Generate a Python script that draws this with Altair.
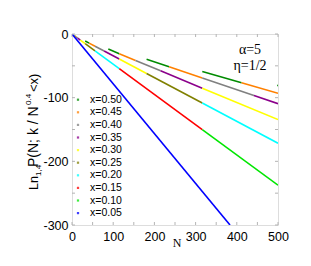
import altair as alt
import pandas as pd

labels = ["x=0.50", "x=0.45", "x=0.40", "x=0.35", "x=0.30",
          "x=0.25", "x=0.20", "x=0.15", "x=0.10", "x=0.05"]
colors = ["#008b00", "#ff8000", "#808080", "#8b008b", "#ffff00",
          "#808000", "#00ffff", "#ff0000", "#00e600", "#0000ff"]

# visible segments per series: (N start, value start, N end, value end)
seg_050 = [(5.7, -2.7, 7.4, -3.5), (32.0, -11.0, 41.6, -14.3), (88.2, -23.7, 114.7, -30.9),
           (181.0, -39.6, 235.6, -51.6), (316.2, -58.8, 411.5, -76.5), (498.0, -80.7, 500.0, -81.0)]
seg_045 = [(7.4, -3.5, 9.9, -4.7), (41.6, -14.3, 55.9, -19.2), (114.7, -30.9, 154.2, -41.5),
           (235.6, -51.6, 316.2, -69.2), (411.5, -76.5, 500.0, -93.0)]
seg_040 = [(9.9, -4.7, 13.8, -6.6), (55.9, -19.2, 78.0, -26.8), (154.2, -41.5, 215.0, -57.8),
           (316.2, -69.2, 441.6, -96.7)]
seg_035 = [(13.8, -6.6, 20.3, -9.6), (78.0, -26.8, 114.7, -39.3), (215.0, -57.8, 316.2, -85.1),
           (441.6, -96.7, 500.0, -109.5)]
seg_030 = [(20.3, -9.6, 32.0, -15.2), (114.7, -39.3, 181.0, -62.1), (316.2, -85.1, 500.0, -134.5)]
seg_025 = [(32.0, -15.2, 55.9, -26.6), (181.0, -62.1, 316.2, -108.5)]
seg_020 = [(55.9, -26.6, 114.7, -54.5), (316.2, -108.5, 500.0, -171.5)]
seg_015 = [(114.7, -54.5, 316.2, -150.2)]
seg_010 = [(316.2, -150.2, 500.0, -237.5)]
seg_005 = [(0.0, 0.0, 383.5, -300.0)]

all_segs = [seg_050, seg_045, seg_040, seg_035, seg_030,
            seg_025, seg_020, seg_015, seg_010, seg_005]

x_ticks = [0, 100, 200, 300, 400, 500]
y_ticks = [0, -100, -200, -300]
x_minor = [0, 50, 100, 150, 200, 250, 300, 350, 400, 450, 500]
y_minor = [0, -50, -100, -150, -200, -250, -300]

rows = []
for lab, segs in zip(labels, all_segs):
    for i, (n0, v0, n1, v1) in enumerate(segs):
        sid = f"{lab}_{i}"
        rows.append({"series": lab, "seg": sid, "N": n0, "v": v0})
        rows.append({"series": lab, "seg": sid, "N": n1, "v": v1})
df = pd.DataFrame(rows)

W, H = 206, 191
SANS = "Liberation Sans"
SERIF = "Liberation Serif"
TICK = "#b4b4b4"

xscale = alt.Scale(domain=[0, 500], nice=False)
yscale = alt.Scale(domain=[-300, 0], nice=False)
xaxis = alt.Axis(values=x_ticks, ticks=False, domain=False, grid=False,
                 labelFontSize=12.5, labelFont=SANS, labelColor="black",
                 labelPadding=5, labelFlush=False, title=None)
yaxis = alt.Axis(values=y_ticks, ticks=False, domain=False, grid=False,
                 labelFontSize=12.5, labelFont=SANS, labelColor="black",
                 labelPadding=4, labelFlush=False, title=None,
                 labelExpr="datum.value == 0 ? '0' : '-' + abs(datum.value)")

lines = alt.Chart(df).mark_line(strokeWidth=1.6, clip=True).encode(
    x=alt.X("N:Q", scale=xscale, axis=xaxis),
    y=alt.Y("v:Q", scale=yscale, axis=yaxis),
    color=alt.Color("series:N", scale=alt.Scale(domain=labels, range=colors), legend=None),
    detail="seg:N",
)

xt = pd.DataFrame({"N": x_minor})
yt = pd.DataFrame({"v": y_minor})
tb = alt.Chart(xt).mark_rule(color=TICK).encode(
    x=alt.X("N:Q", scale=xscale, axis=xaxis), y=alt.value(H), y2=alt.value(H - 3))
tt = alt.Chart(xt).mark_rule(color=TICK).encode(
    x=alt.X("N:Q", scale=xscale, axis=xaxis), y=alt.value(0), y2=alt.value(3))
tl = alt.Chart(yt).mark_rule(color=TICK).encode(
    y=alt.Y("v:Q", scale=yscale, axis=yaxis), x=alt.value(0), x2=alt.value(3))
tr = alt.Chart(yt).mark_rule(color=TICK).encode(
    y=alt.Y("v:Q", scale=yscale, axis=yaxis), x=alt.value(W), x2=alt.value(W - 3))

leg_df = pd.DataFrame({"series": labels})
leg_base = alt.Chart(leg_df).transform_window(
    idx="row_number()"
).transform_calculate(py="65.7 + 12.6 * (datum.idx - 1)")
leg_text = leg_base.mark_text(align="left", baseline="middle", font=SANS,
                              fontSize=10.5, color="black").encode(
    x=alt.value(18), y=alt.Y("py:Q", scale=None, axis=None), text="series:N")
leg_mark = leg_base.mark_square(size=5, opacity=0.75).encode(
    x=alt.value(6), y=alt.Y("py:Q", scale=None, axis=None),
    color=alt.Color("series:N", scale=alt.Scale(domain=labels, range=colors), legend=None))

one = pd.DataFrame({"a": [0]})


def txt(s, x, y, size, font, angle=0, align="center", baseline="middle"):
    kw = dict(align=align, baseline=baseline, font=font, fontSize=size, color="black")
    if angle:
        kw["angle"] = angle
    return alt.Chart(one).mark_text(**kw).encode(
        x=alt.value(x), y=alt.value(y), text=alt.value(s))


annots = [
    txt("α=5", 178, 16, 14, SERIF),
    txt("η=1/2", 178, 32, 14, SERIF),
    txt("N", 105, 209, 12, SERIF),
    # rotated y title pieces
    txt("Ln", -38, 156, 12.5, SANS, angle=270, align="left"),
    txt("1,4", -33, 142, 8, SANS, angle=270, align="left"),
    txt("P(N; k / N", -38, 133, 14, SANS, angle=270, align="left"),
    txt("0.4", -43, 71, 8, SANS, angle=270, align="left"),
    txt("<x)", -38, 58, 13, SANS, angle=270, align="left"),
]

chart = alt.layer(lines, tb, tt, tl, tr, leg_mark, leg_text, *annots).properties(
    width=W, height=H,
    autosize=alt.AutoSizeParams(type="none"),
    padding={"left": 64, "top": 26, "right": 25, "bottom": 33},
).configure_view(stroke="#c8c8c8", strokeWidth=1).configure(background="white")

chart.save("out.html", embed_options={"renderer": "svg", "actions": False})
